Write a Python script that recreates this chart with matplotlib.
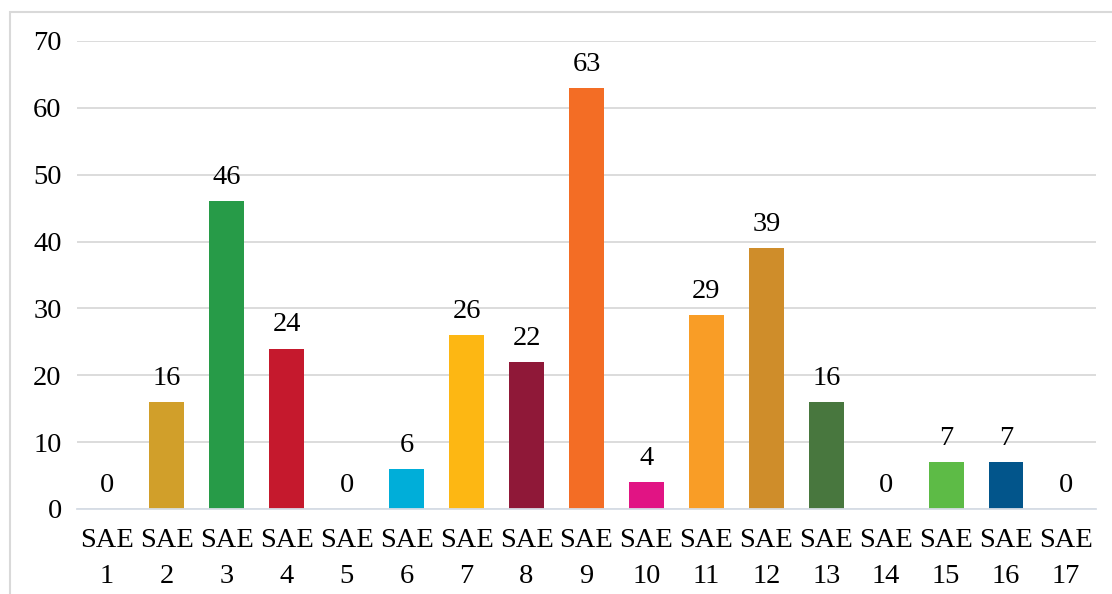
import matplotlib
matplotlib.use("Agg")
import matplotlib.pyplot as plt
from matplotlib.patches import Rectangle

categories = ["SAE\n%d" % i for i in range(1, 18)]
values = [0, 16, 46, 24, 0, 6, 26, 22, 63, 4, 29, 39, 16, 0, 7, 7, 0]
colors = ["#E5243B", "#D19F2A", "#279B48", "#C5192D", "#EF402B", "#00AED9",
          "#FDB713", "#8F1838", "#F36D25", "#E11484", "#F99D26", "#CF8D2A",
          "#48773E", "#007DBC", "#5DBB46", "#02558B", "#18365D"]

plt.rcParams["font.family"] = ["Liberation Serif", "DejaVu Serif"]

fig = plt.figure(figsize=(11.12, 5.94), dpi=100)
ax = fig.add_axes([0.0692, 0.1431, 0.9164, 0.7879])

x = list(range(len(values)))
bars = ax.bar(x, values, width=0.58, color=colors, zorder=2)

for xi, v in zip(x, values):
    ax.annotate(str(v), (xi, v), xytext=(0, 8), textcoords="offset points",
                ha="center", va="bottom", fontsize=20.5)

ax.set_xlim(-0.5, len(values) - 0.5)
ax.set_ylim(0, 70)
ax.set_yticks(range(0, 71, 10))
ax.set_xticks(x)
ax.set_xticklabels(categories, linespacing=1.55)
ax.tick_params(axis="both", length=0, labelsize=20.5)
ax.tick_params(axis="y", pad=11)
ax.tick_params(axis="x", pad=14)
ax.yaxis.grid(True, color="#D9D9D9", linewidth=1.3, zorder=0)
for s in ["top", "right", "left"]:
    ax.spines[s].set_visible(False)
ax.spines["bottom"].set_color("#D6DCE5")
ax.spines["bottom"].set_linewidth(1.3)

fig.patches.append(Rectangle((10 / 1112, -0.01), 1.1, 1 - 12 / 594 + 0.01,
                             transform=fig.transFigure, fill=False,
                             edgecolor="#D9D9D9", linewidth=1.5))

fig.savefig("out.png", dpi=100)
